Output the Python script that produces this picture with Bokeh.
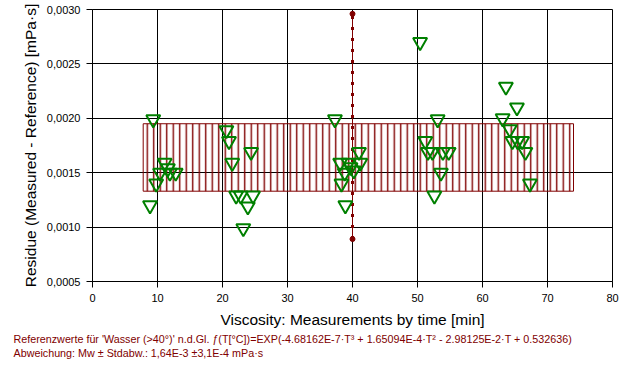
import numpy as np
from bokeh.plotting import figure
from bokeh.models import Range1d, FixedTicker, CustomJSTickFormatter, Title
from bokeh.embed import file_html
from bokeh.resources import INLINE

# measurement time [min] and residue (measured - reference) [mPa·s]
time_min = [9.35, 8.85, 9.8, 10.4, 11.1, 11.6, 11.9, 12.8,
            20.6, 21.0, 21.5, 24.4, 22.1, 22.8, 24.7, 23.9, 23.2,
            37.3, 38.1, 39.4, 41.2, 41.0, 39.7, 40.2, 38.8, 38.3, 38.9,
            50.4, 51.2, 51.6, 52.3, 53.9, 54.8, 53.1, 53.6, 52.6,
            63.6, 65.3, 63.1, 64.2, 64.6, 65.4, 66.1, 66.6, 67.3]
residue = [0.00199, 0.00120, 0.00140, 0.00150, 0.00159, 0.00154, 0.00150, 0.00150,
           0.00189, 0.00179, 0.00159, 0.00169, 0.00129, 0.00129, 0.00129, 0.00119, 0.00099,
           0.00199, 0.00159, 0.00159, 0.00159, 0.00169, 0.00155, 0.00152, 0.00150, 0.00140, 0.00120,
           0.00270, 0.00179, 0.00169, 0.00169, 0.00169, 0.00169, 0.00199, 0.00150, 0.00129,
           0.00229, 0.00210, 0.00200, 0.00190, 0.00179, 0.00179, 0.00179, 0.00169, 0.00140]

# mean ± standard deviation band
mean_res = 0.00164
std_res = 0.00031
band_start = 7.8
band_end = 74.0

# time cursor
cursor_x = 40.0
cursor_top = 0.00296
cursor_bottom = 0.00089

x_ticks = [0, 10, 20, 30, 40, 50, 60, 70, 80]
y_ticks = [0.0005, 0.0010, 0.0015, 0.0020, 0.0025, 0.0030]

FONT = "Liberation Sans"
DARKRED = "#800000"

p = figure(width=620, height=360, x_range=Range1d(0, 80), y_range=Range1d(0.0005, 0.0030),
           output_backend="svg", toolbar_location=None,
           min_border_left=92, min_border_right=8, min_border_top=9, min_border_bottom=79,
           x_axis_label="Viscosity: Measurements by time [min]",
           y_axis_label="Residue (Measured - Reference) [mPa·s]")

p.background_fill_color = "white"
p.border_fill_color = "white"
p.outline_line_color = "black"
p.outline_line_width = 1

p.xaxis.ticker = FixedTicker(ticks=x_ticks)
p.yaxis.ticker = FixedTicker(ticks=y_ticks)
p.yaxis.formatter = CustomJSTickFormatter(code="return tick.toFixed(4).replace('.', ',');")

for ax in (p.xaxis, p.yaxis):
    ax.axis_line_color = "black"
    ax.major_tick_line_color = "black"
    ax.major_tick_out = 6
    ax.major_tick_in = 0
    ax.minor_tick_line_color = None
    ax.major_label_text_font = FONT
    ax.major_label_text_font_size = "11px"
    ax.major_label_text_color = "black"
    ax.major_label_standoff = 6
    ax.axis_label_text_font = FONT
    ax.axis_label_text_font_size = "15.5px"
    ax.axis_label_text_font_style = "normal"
    ax.axis_label_text_color = "black"
p.xaxis.axis_label_standoff = 6
p.yaxis.axis_label_standoff = 5

p.grid.grid_line_color = "black"
p.grid.grid_line_width = 1
p.grid.grid_line_alpha = 1

# band
p.quad(left=[band_start], right=[band_end], bottom=[mean_res - std_res], top=[mean_res + std_res],
       fill_alpha=0, line_color=DARKRED, line_width=1,
       hatch_pattern="vertical_line", hatch_color=DARKRED, hatch_scale=6.5, hatch_weight=1.4)

# cursor
p.segment(x0=[cursor_x], y0=[cursor_bottom], x1=[cursor_x], y1=[cursor_top],
          line_color=DARKRED, line_width=1)
p.segment(x0=[cursor_x], y0=[cursor_bottom], x1=[cursor_x], y1=[cursor_top],
          line_color=DARKRED, line_width=3, line_dash="3 8")
p.scatter([cursor_x, cursor_x], [cursor_top, cursor_bottom], size=5, color=DARKRED)

# residues
p.scatter(time_min, residue, marker="inverted_triangle", size=14,
          fill_color=None, line_color="#008000", line_width=2)

note1 = ("Referenzwerte für 'Wasser (>40°)' n.d.Gl. ƒ(T[°C])=EXP(-4.68162E-7·T³ + 1.65094E-4·T² "
         "- 2.98125E-2·T + 0.532636)")
note2 = "Abweichung:  Mw ± Stdabw.: 1,64E-3 ±3,1E-4 mPa·s"
for txt in (note1, note2):
    p.add_layout(Title(text=txt, align="left", offset=-79, standoff=0,
                       text_font=FONT, text_font_size="10.75px", text_color=DARKRED,
                       text_font_style="normal"), "below")

open("out.html", "w").write(file_html(p, INLINE))
